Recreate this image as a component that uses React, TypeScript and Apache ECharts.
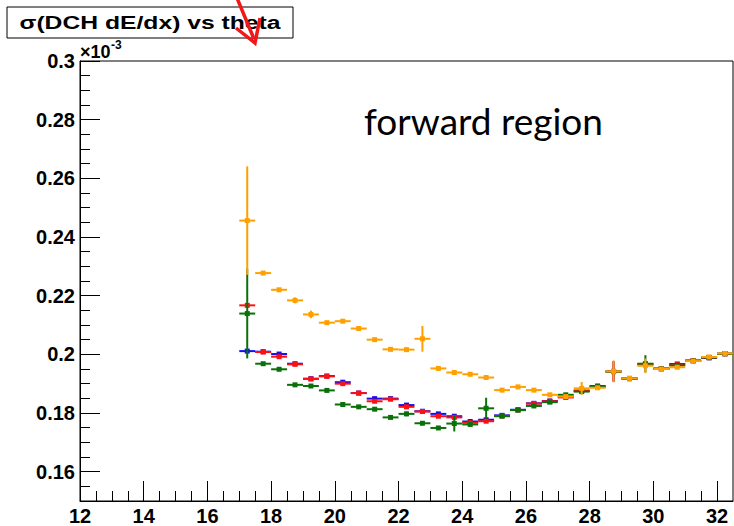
import React, { useEffect, useRef } from "react";
import * as echarts from "echarts";

// bin centres (theta, degrees), bin width 0.5
const xCenters = [
  17.25, 17.75, 18.25, 18.75, 19.25, 19.75, 20.25, 20.75, 21.25, 21.75,
  22.25, 22.75, 23.25, 23.75, 24.25, 24.75, 25.25, 25.75, 26.25, 26.75,
  27.25, 27.75, 28.25, 28.75, 29.25, 29.75, 30.25, 30.75, 31.25, 31.75, 32.25,
];

// sigma(DCH dE/dx) in units of 1e-3
const blueVals = [
  0.2011, 0.2009, 0.2001, 0.1968, 0.1917, 0.1926, 0.1905, 0.1868, 0.1849, 0.1849,
  0.1827, 0.1806, 0.1797, 0.1789, 0.1771, 0.1777, 0.1792, 0.1811, 0.1833, 0.1841,
  0.1855, 0.1876, 0.1892, 0.1942, 0.1918, 0.1966, 0.1951, 0.1967, 0.1978, 0.1988, 0.2002,
];
const blueErr = [
  0.0004, 0.0004, 0.0004, 0.0004, 0.0004, 0.0004, 0.0004, 0.0004, 0.0004, 0.0004,
  0.0004, 0.0004, 0.0004, 0.0004, 0.0004, 0.0004, 0.0004, 0.0004, 0.0004, 0.0004,
  0.0004, 0.0004, 0.0004, 0.0035, 0.0004, 0.0004, 0.0004, 0.0004, 0.0004, 0.0004, 0.0004,
];
const redVals = [
  0.2167, 0.2008, 0.1992, 0.1966, 0.1916, 0.1925, 0.19, 0.1868, 0.184, 0.1847,
  0.1821, 0.1805, 0.1789, 0.1785, 0.1767, 0.1772, 0.179, 0.181, 0.1832, 0.184,
  0.1853, 0.1876, 0.189, 0.1941, 0.1917, 0.1966, 0.1951, 0.1965, 0.1979, 0.1989, 0.2002,
];
const redErr = [
  0.0004, 0.0004, 0.0004, 0.0004, 0.0004, 0.0004, 0.0004, 0.0004, 0.0004, 0.0004,
  0.0004, 0.0004, 0.0004, 0.0004, 0.0004, 0.0004, 0.0004, 0.0004, 0.0004, 0.0004,
  0.0004, 0.0004, 0.0004, 0.0034, 0.0004, 0.0004, 0.0004, 0.0004, 0.0004, 0.0004, 0.0004,
];
const greenVals = [
  0.2139, 0.1968, 0.1949, 0.1896, 0.1892, 0.1877, 0.1829, 0.1821, 0.1813, 0.1785,
  0.1797, 0.1765, 0.1749, 0.1764, 0.1761, 0.1816, 0.1789, 0.181, 0.1824, 0.1837,
  0.1862, 0.1873, 0.189, 0.1941, 0.1917, 0.1968, 0.1951, 0.1962, 0.1978, 0.1989, 0.2002,
];
const greenErr = [
  0.0153, 0.0004, 0.0004, 0.0004, 0.0004, 0.0004, 0.0004, 0.0004, 0.0004, 0.0004,
  0.0008, 0.0004, 0.0004, 0.0027, 0.0005, 0.0036, 0.0004, 0.0004, 0.0004, 0.0004,
  0.0004, 0.0004, 0.0004, 0.0004, 0.0006, 0.0029, 0.0004, 0.0004, 0.0004, 0.0004, 0.0004,
];
const orangeVals = [
  0.2456, 0.2277, 0.222, 0.2184, 0.2136, 0.2108, 0.2113, 0.2088, 0.205, 0.2017,
  0.2016, 0.2053, 0.1952, 0.1938, 0.1932, 0.1921, 0.1878, 0.1889, 0.1878, 0.1862,
  0.1856, 0.1884, 0.1886, 0.1942, 0.1918, 0.1961, 0.195, 0.1956, 0.1977, 0.1991, 0.2003,
];
const orangeErr = [
  0.0185, 0.0005, 0.0005, 0.001, 0.0013, 0.0005, 0.0005, 0.0005, 0.0005, 0.0005,
  0.0005, 0.0044, 0.0005, 0.0005, 0.0005, 0.0005, 0.0005, 0.0005, 0.0005, 0.0005,
  0.0005, 0.0022, 0.0005, 0.0037, 0.0005, 0.0025, 0.0005, 0.0005, 0.0005, 0.0005, 0.0005,
];

const xMajorTicks = [12, 14, 16, 18, 20, 22, 24, 26, 28, 30, 32];
const yMajorTicks = [0.16, 0.18, 0.2, 0.22, 0.24, 0.26, 0.28, 0.3];

const xMinorTicks: number[] = [];
for (let i = 0; i <= 40; i++) {
  const v = 12 + i * 0.5;
  if (v % 2 !== 0) xMinorTicks.push(v);
}
const yMinorTicks: number[] = [];
for (let i = 1; i < 30; i++) {
  const v = Math.round((0.15 + i * 0.005) * 1000) / 1000;
  if (Math.round(v * 1000) % 20 !== 0) yMinorTicks.push(v);
}

const HALF_BIN = 0.25;

function makeSeries(name: string, color: string, vals: number[], errs: number[]) {
  return {
    name,
    type: "custom",
    xAxisIndex: 0,
    yAxisIndex: 0,
    clip: true,
    data: xCenters.map((x, i) => [x, vals[i], errs[i]]),
    renderItem: (params: any, api: any) => {
      const x = api.value(0);
      const y = api.value(1);
      const e = api.value(2);
      const l = api.coord([x - HALF_BIN, y]);
      const r = api.coord([x + HALF_BIN, y]);
      const t = api.coord([x, y + e]);
      const b = api.coord([x, y - e]);
      const c = api.coord([x, y]);
      return {
        type: "group",
        children: [
          {
            type: "line",
            shape: { x1: l[0], y1: l[1], x2: r[0], y2: r[1] },
            style: { stroke: color, lineWidth: 2 },
          },
          {
            type: "line",
            shape: { x1: t[0], y1: t[1], x2: b[0], y2: b[1] },
            style: { stroke: color, lineWidth: 2 },
          },
          {
            type: "rect",
            shape: { x: c[0] - 2.5, y: c[1] - 2.5, width: 5, height: 5 },
            style: { fill: color },
          },
        ],
      };
    },
  };
}

const FONT = "Liberation Sans, Arial, sans-serif";

export default function App() {
  const ref = useRef<HTMLDivElement>(null);
  useEffect(() => {
    if (!ref.current) return;
    const chart = echarts.init(ref.current, undefined, { renderer: "svg" });
    const fmt = (v: number) => String(Math.round(v * 100) / 100);
    chart.setOption({
      animation: false,
      backgroundColor: "#ffffff",
      grid: {
        left: 80,
        right: 1,
        top: 61,
        bottom: 24,
        show: true,
        borderColor: "#000",
        borderWidth: 1,
        backgroundColor: "#fff",
      },
      xAxis: [
        {
          type: "value",
          min: 12,
          max: 32.5,
          position: "bottom",
          axisLine: { show: true, lineStyle: { color: "#000", width: 1 } },
          axisTick: {
            show: true,
            inside: true,
            length: 20,
            customValues: xMajorTicks,
            lineStyle: { color: "#000", width: 1 },
          },
          axisLabel: {
            customValues: xMajorTicks,
            formatter: fmt,
            color: "#000",
            fontSize: 20,
            fontWeight: "bold",
            fontFamily: FONT,
            margin: 5,
          },
          splitLine: { show: false },
        },
        {
          type: "value",
          min: 12,
          max: 32.5,
          position: "bottom",
          axisLine: { show: false },
          axisTick: {
            show: true,
            inside: true,
            length: 10,
            customValues: xMinorTicks,
            lineStyle: { color: "#000", width: 1 },
          },
          axisLabel: { show: false },
          splitLine: { show: false },
        },
      ],
      yAxis: [
        {
          type: "value",
          min: 0.15,
          max: 0.3,
          position: "left",
          axisLine: { show: true, lineStyle: { color: "#000", width: 1 } },
          axisTick: {
            show: true,
            inside: true,
            length: 20,
            customValues: yMajorTicks,
            lineStyle: { color: "#000", width: 1 },
          },
          axisLabel: {
            customValues: yMajorTicks,
            formatter: fmt,
            color: "#000",
            fontSize: 20,
            fontWeight: "bold",
            fontFamily: FONT,
            margin: 5,
          },
          splitLine: { show: false },
        },
        {
          type: "value",
          min: 0.15,
          max: 0.3,
          position: "left",
          axisLine: { show: false },
          axisTick: {
            show: true,
            inside: true,
            length: 10,
            customValues: yMinorTicks,
            lineStyle: { color: "#000", width: 1 },
          },
          axisLabel: { show: false },
          splitLine: { show: false },
        },
      ],
      series: [
        makeSeries("blue", "#1010F0", blueVals, blueErr),
        makeSeries("red", "#FF1010", redVals, redErr),
        makeSeries("green", "#0A700A", greenVals, greenErr),
        makeSeries("orange", "#FFA000", orangeVals, orangeErr),
      ],
      graphic: [
        {
          type: "rect",
          shape: { x: 7, y: 7, width: 286, height: 31 },
          style: { fill: "#fff", stroke: "#000", lineWidth: 1 },
          z: 100,
        },
        {
          type: "text",
          x: 150,
          y: 23,
          scaleX: 1.3,
          style: {
            text: "σ(DCH dE/dx) vs theta",
            fill: "#000",
            fontSize: 19,
            fontWeight: "bold",
            fontFamily: FONT,
            align: "center",
            verticalAlign: "middle",
          },
          z: 101,
        },
        {
          type: "text",
          x: 80,
          y: 61,
          style: {
            text: "×10",
            fill: "#000",
            fontSize: 18,
            fontWeight: "bold",
            fontFamily: FONT,
            align: "left",
            verticalAlign: "bottom",
          },
          z: 101,
        },
        {
          type: "text",
          x: 111,
          y: 39,
          style: {
            text: "-3",
            fill: "#000",
            fontSize: 12,
            fontWeight: "bold",
            fontFamily: FONT,
            align: "left",
            verticalAlign: "top",
          },
          z: 101,
        },
        {
          type: "text",
          x: 364,
          y: 139,
          style: {
            text: "forward region",
            fill: "#000",
            fontSize: 37,
            fontFamily: "Lato",
            verticalAlign: "bottom",
          },
          z: 101,
        },
        {
          type: "line",
          shape: { x1: 237, y1: -2, x2: 254, y2: 39 },
          style: { stroke: "#F01818", lineWidth: 3.5 },
          z: 102,
        },
        {
          type: "polyline",
          shape: { points: [[236, 28], [255, 43], [260, 18]] },
          style: { stroke: "#F01818", lineWidth: 3.5, fill: null },
          z: 102,
        },
      ],
    });
    return () => chart.dispose();
  }, []);
  return (
    <div
      ref={ref}
      style={{ position: "fixed", left: 0, top: 0, width: 734, height: 526, background: "#fff" }}
    />
  );
}
